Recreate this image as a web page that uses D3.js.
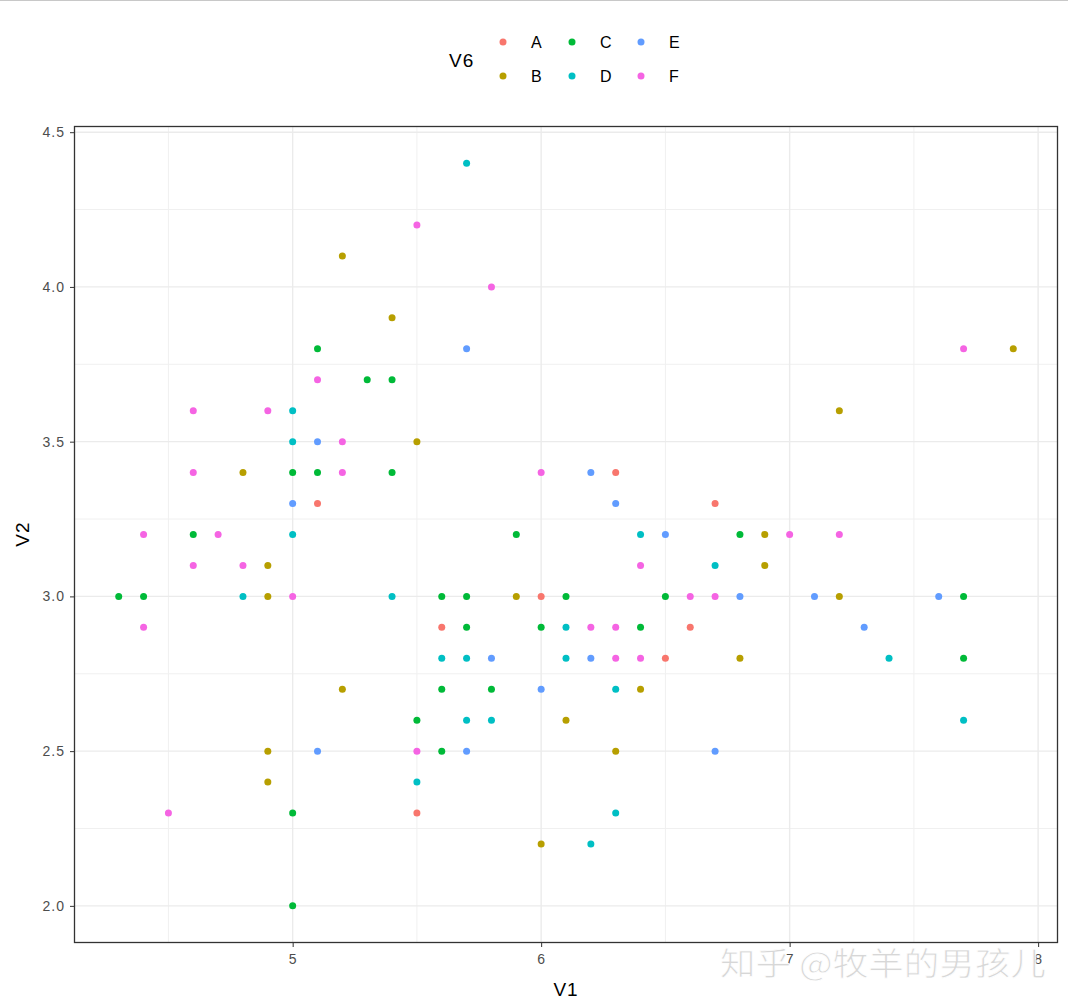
<!DOCTYPE html>
<html><head><meta charset="utf-8">
<script src="https://cdn.jsdelivr.net/npm/d3@7/dist/d3.min.js"></script>
<style>body{margin:0;background:#fff;} text{font-family:"Liberation Sans",Arial,sans-serif;}</style>
</head><body>
<svg id="c" width="1068" height="1008"></svg>
<script>
const categories = ["A","B","C","D","E","F"];
const colors = ["#F8766D","#B79F00","#00BA38","#00BFC4","#619CFF","#F564E3"];
const xTicks = [5,6,7,8];
const yTicks = [2.0,2.5,3.0,3.5,4.0,4.5];
// [V1, V2] per group
const ptsA = [[5.1,3.3],[6.3,3.4],[6.7,3.3],[6.0,3.0],[5.6,2.9],[6.6,2.9],[6.5,2.8],[5.5,2.3]];
const ptsB = [[5.2,4.1],[5.4,3.9],[7.9,3.8],[7.2,3.6],[5.5,3.5],[4.8,3.4],[6.9,3.2],[4.9,3.1],[6.9,3.1],[4.9,3.0],[5.9,3.0],[7.2,3.0],[6.8,2.8],[5.2,2.7],[6.4,2.7],[6.1,2.6],[4.9,2.5],[6.3,2.5],[4.9,2.4],[6.0,2.2]];
const ptsC = [[5.1,3.8],[5.3,3.7],[5.4,3.7],[5.0,3.4],[5.1,3.4],[5.4,3.4],[4.6,3.2],[5.9,3.2],[6.8,3.2],[4.3,3.0],[4.4,3.0],[5.6,3.0],[5.7,3.0],[6.1,3.0],[6.5,3.0],[7.7,3.0],[5.7,2.9],[6.0,2.9],[6.4,2.9],[7.7,2.8],[5.6,2.7],[5.8,2.7],[5.5,2.6],[5.6,2.5],[5.0,2.3],[5.0,2.0]];
const ptsD = [[5.7,4.4],[5.0,3.6],[5.0,3.5],[5.0,3.2],[6.4,3.2],[6.7,3.1],[4.8,3.0],[5.4,3.0],[6.1,2.9],[5.6,2.8],[5.7,2.8],[6.1,2.8],[7.4,2.8],[6.3,2.7],[5.7,2.6],[5.8,2.6],[7.7,2.6],[5.5,2.4],[6.3,2.3],[6.2,2.2]];
const ptsE = [[5.7,3.8],[5.1,3.5],[6.2,3.4],[5.0,3.3],[6.3,3.3],[6.5,3.2],[6.8,3.0],[7.1,3.0],[7.6,3.0],[7.3,2.9],[5.8,2.8],[6.2,2.8],[6.0,2.7],[5.1,2.5],[5.7,2.5],[6.7,2.5]];
const ptsF = [[5.5,4.2],[5.8,4.0],[7.7,3.8],[5.1,3.7],[4.6,3.6],[4.9,3.6],[5.2,3.5],[4.6,3.4],[5.2,3.4],[6.0,3.4],[4.4,3.2],[4.7,3.2],[7.0,3.2],[7.2,3.2],[4.6,3.1],[4.8,3.1],[6.4,3.1],[5.0,3.0],[6.6,3.0],[6.7,3.0],[4.4,2.9],[6.2,2.9],[6.3,2.9],[6.3,2.8],[6.4,2.8],[5.5,2.5],[4.5,2.3]];

const groups = [ptsA,ptsB,ptsC,ptsD,ptsE,ptsF];
const data = [];
groups.forEach((g,i)=>g.forEach(p=>data.push({x:p[0],y:p[1],g:categories[i]})));

const svg = d3.select("#c");
const L=74,R=1058,T=126,B=943;
const x = d3.scaleLinear().domain([4.12,8.08]).range([L,R]);
const y = d3.scaleLinear().domain([1.88,4.52]).range([B,T]);
const color = d3.scaleOrdinal().domain(categories).range(colors);

// top screenshot line
svg.append("line").attr("x1",0).attr("x2",1068).attr("y1",0.5).attr("y2",0.5).attr("stroke","#c8c8c8");

// grid
const xMinor=[4.5,5.5,6.5,7.5], yMinor=[2.25,2.75,3.25,3.75,4.25];
const grid = svg.append("g");
xMinor.forEach(v=>grid.append("line").attr("x1",x(v)).attr("x2",x(v)).attr("y1",T).attr("y2",B).attr("stroke","#F0F0F0").attr("stroke-width",1));
yMinor.forEach(v=>grid.append("line").attr("y1",y(v)).attr("y2",y(v)).attr("x1",L).attr("x2",R).attr("stroke","#F0F0F0").attr("stroke-width",1));
xTicks.forEach(v=>grid.append("line").attr("x1",x(v)).attr("x2",x(v)).attr("y1",T).attr("y2",B).attr("stroke","#EBEBEB").attr("stroke-width",1.4));
yTicks.forEach(v=>grid.append("line").attr("y1",y(v)).attr("y2",y(v)).attr("x1",L).attr("x2",R).attr("stroke","#EBEBEB").attr("stroke-width",1.4));

// points
svg.append("g").selectAll("circle").data(data).join("circle")
  .attr("cx",d=>x(d.x)).attr("cy",d=>y(d.y)).attr("r",3.5).attr("fill",d=>color(d.g));

// border
svg.append("rect").attr("x",L+0.5).attr("y",T+0.5).attr("width",R-L-1).attr("height",B-T-1)
  .attr("fill","none").attr("stroke","#333333").attr("stroke-width",1.3);

// axes
const xAxis = svg.append("g").attr("transform",`translate(0,${B})`)
  .call(d3.axisBottom(x).tickValues(xTicks).tickFormat(d3.format("d")).tickSize(4).tickPadding(7));
const yAxis = svg.append("g").attr("transform",`translate(${L},0)`)
  .call(d3.axisLeft(y).tickValues(yTicks).tickFormat(d3.format(".1f")).tickSize(4).tickPadding(5));
[xAxis,yAxis].forEach(a=>{
  a.select(".domain").remove();
  a.selectAll(".tick line").attr("stroke","#333333");
  a.selectAll(".tick text").attr("fill","#4D4D4D").style("font-size","14px").style("letter-spacing","1px")
   .style("font-family","'Liberation Sans',Arial,sans-serif");
});

// axis titles
svg.append("text").attr("x",(L+R)/2).attr("y",996).attr("text-anchor","middle").style("font-size","19px").style("letter-spacing","1px").attr("fill","#000").text("V1");
svg.append("text").attr("transform","translate(29,534) rotate(-90)").attr("text-anchor","middle").style("font-size","19px").style("letter-spacing","1px").attr("fill","#000").text("V2");

// legend
svg.append("text").attr("x",449).attr("y",67).style("font-size","19px").style("letter-spacing","1px").attr("fill","#000").text("V6");
const legPos = [[503,42],[503,76],[572,42],[572,76],[641,42],[641,76]];
categories.forEach((c,i)=>{
  const [lx,ly]=legPos[i];
  svg.append("circle").attr("cx",lx).attr("cy",ly).attr("r",3.5).attr("fill",colors[i]);
  svg.append("text").attr("x",lx+28).attr("y",ly+6).style("font-size","16px").attr("fill","#000").text(c);
});

// watermark
svg.append("text").attr("x",720).attr("y",975)
  .style("font-family","'Noto Sans CJK SC',sans-serif").style("font-size","32px")
  .attr("textLength",326).attr("lengthAdjust","spacingAndGlyphs")
  .attr("fill","#d2d2d2").attr("stroke","#ffffff").attr("stroke-width",0.8).attr("fill-opacity",0.9)
  .text("知乎 @牧羊的男孩儿");
</script>
</body></html>
